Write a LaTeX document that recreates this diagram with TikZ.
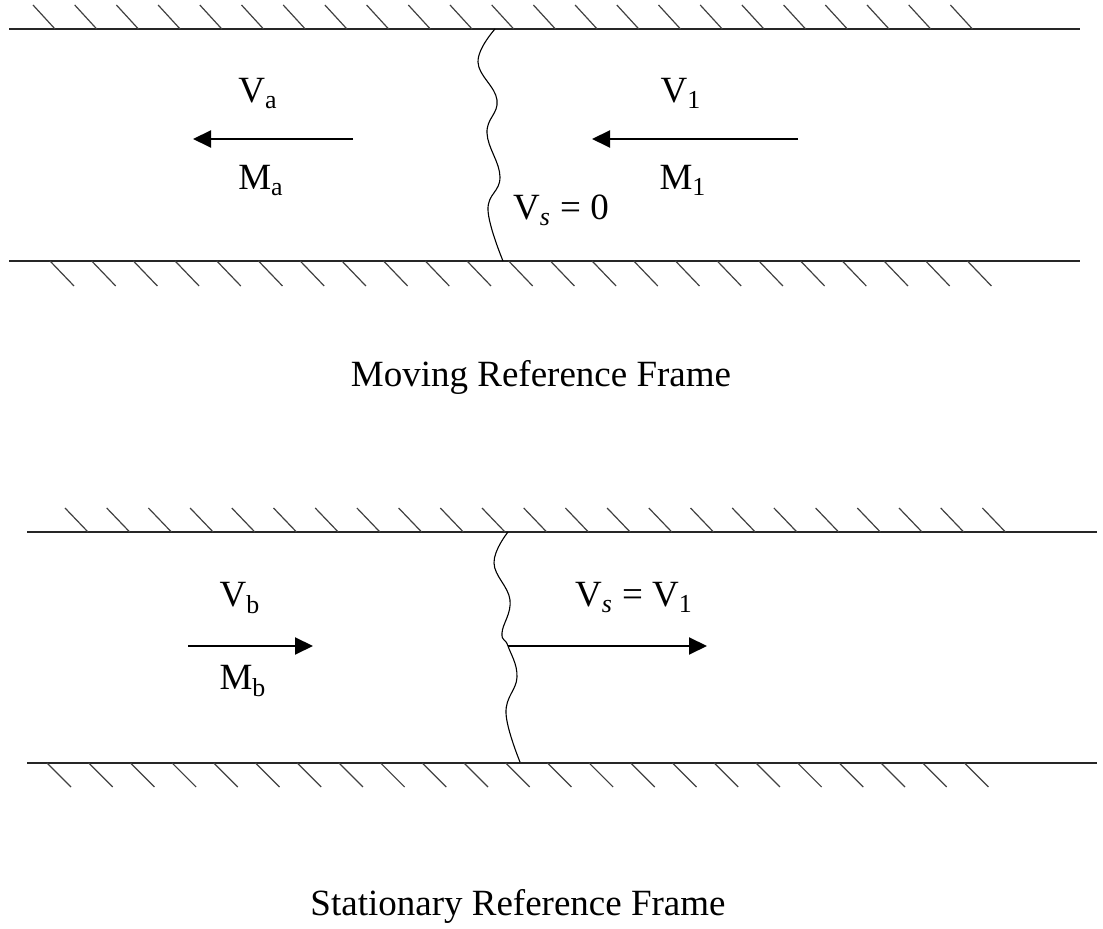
\documentclass[tikz,border=0pt]{standalone}
\usepackage{fontspec}
\setmainfont{Liberation Serif}
\usetikzlibrary{arrows.meta}
\tikzset{
  wall/.style={line width=1pt, draw=black!85},
  hatch/.style={line width=0.6pt, draw=black!75},
  shock/.style={line width=0.55pt},
  flow/.style={-{Triangle[length=9pt,width=8.5pt]}, line width=1pt},
  lbl/.style={anchor=base, inner sep=0pt, font=\fontsize{18.5}{22}\selectfont},
  titulo/.style={anchor=base, inner sep=0pt, font=\fontsize{18.5}{22}\selectfont}
}
\begin{document}
\begin{tikzpicture}[x=0.5pt, y=-0.5pt]
  \useasboundingbox (0,0) rectangle (1103,929);
  % marco movil
  \draw[wall] (9,29) -- (1080,29);
  \draw[wall] (9,261) -- (1080,261);
  \foreach \i in {0,...,22} {
    \draw[hatch] (55+41.7*\i,29) -- ++(-22,-24);
    \draw[hatch] (50+41.7*\i,261) -- ++(24,25);
  }
  \draw[shock] plot[smooth, tension=0.7] coordinates {(495,29) (478,62) (497,100) (487,133) (500,177) (488,210) (503,261)};
  \coordinate (aIs) at (353,139); \coordinate (aIe) at (193,139);
  \coordinate (bIs) at (798,139); \coordinate (bIe) at (592,139);
  \draw[flow] (aIs) -- (aIe);
  \draw[flow] (bIs) -- (bIe);
  \node[lbl] (va) at (258,103) {V\textsubscript{a}};
  \node[lbl] (ma) at (261,190) {M\textsubscript{a}};
  \node[lbl] (v1) at (681,103) {V\textsubscript{1}};
  \node[lbl] (m1) at (683,190) {M\textsubscript{1}};
  \node[lbl] (vs0) at (561,220) {V\textsubscript{\textit{s}} = 0};
  \node[titulo] (cap1) at (541,387) {Moving Reference Frame};
  % marco fijo
  \draw[wall] (27,532) -- (1097,532);
  \draw[wall] (27,763) -- (1097,763);
  \foreach \i in {0,...,22} {
    \draw[hatch] (88+41.7*\i,532) -- ++(-23,-24);
    \draw[hatch] (47+41.7*\i,763) -- ++(24,24);
  }
  \draw[shock] plot[smooth, tension=0.7] coordinates {(508,532) (494,563) (510,600) (502,633) (508,646) (517,677) (506,713) (520,762)};
  \coordinate (shk) at (508,646); \coordinate (sEnd) at (707,646);
  \coordinate (aIIs) at (188,646); \coordinate (aIIe) at (313,646);
  \draw[flow] (aIIs) -- (aIIe);
  \draw[flow] (shk) -- (sEnd);
  \node[lbl] (vb) at (240,607) {V\textsubscript{b}};
  \node[lbl] (mb) at (243,690) {M\textsubscript{b}};
  \node[lbl] (vsv1) at (634,607) {V\textsubscript{\textit{s}} = V\textsubscript{1}};
  \node[titulo] (cap2) at (518,915) {Stationary Reference Frame};
\end{tikzpicture}
\end{document}
